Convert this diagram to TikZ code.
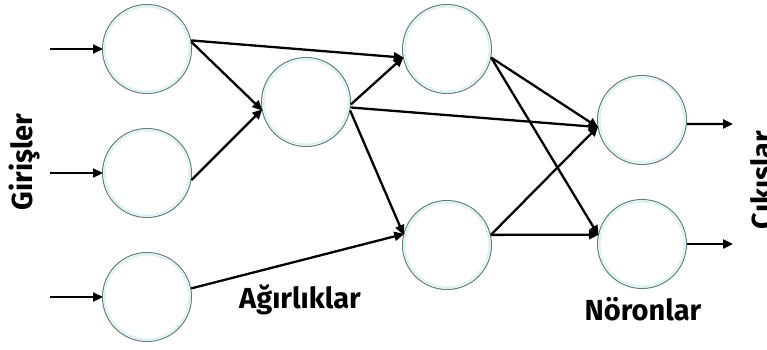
\documentclass[tikz,border=0pt]{standalone}
\usepackage{fontspec}
\setmainfont{Fira Sans}
\usetikzlibrary{arrows.meta}
\definecolor{circ}{RGB}{95,125,125}
\definecolor{glow}{RGB}{215,240,242}
\tikzset{
  neuron/.style={circle, draw=circ, line width=1pt, fill=white, minimum size=89pt, inner sep=0pt},
  conn/.style={line width=2.3pt, draw=black, -{Triangle[length=10pt,width=9pt]}, shorten >=-1pt},
  lab/.style={font=\fontsize{29}{32}\selectfont\bfseries, inner sep=0pt},
}
\begin{document}
\begin{tikzpicture}[x=1pt,y=-1pt]
\useasboundingbox (0,0) rectangle (767,350);
\fill[white] (0,0) rectangle (767,350);
% neurons
\node[neuron] (i1) at (147,49) {};
\node[neuron] (i2) at (147,173) {};
\node[neuron] (i3) at (147,297) {};
\node[neuron] (h1) at (306,102) {};
\node[neuron] (m1) at (447,49) {};
\node[neuron] (m2) at (447,245) {};
\node[neuron] (o1) at (642,120) {};
\node[neuron] (o2) at (642,244) {};
% inner glow
\foreach \n in {i1,i2,i3,h1,m1,m2,o1,o2}{
  \draw[glow, line width=1.5pt] (\n.center) circle (42.3pt);
}
% free ends
\coordinate (s1) at (50,49);
\coordinate (s2) at (50,173);
\coordinate (s3) at (50,297);
\coordinate (e1) at (732,124);
\coordinate (e2) at (732,244);
% inputs
\draw[conn] (s1) -- (i1.west);
\draw[conn] (s2) -- (i2.west);
\draw[conn] (s3) -- (i3.west);
% connections
\draw[conn] (i1.11) -- (m1.191);
\draw[conn] (i1.9) -- (h1.190);
\draw[conn] (i2.-9) -- (h1.190);
\draw[conn] (i3.11) -- (m2.166);
\draw[conn] (h1.-3) -- (m1.191);
\draw[conn] (h1.-7) -- (o1.189);
\draw[conn] (h1.-11) -- (m2.166);
\draw[conn] (m1.-11) -- (o1.189);
\draw[conn] (m1.-11) -- (o2.168);
\draw[conn] (m2.13) -- (o1.189);
\draw[conn] (m2.13) -- (o2.168);
% outputs
\draw[conn] (o1.-5) -- (e1);
\draw[conn] (o2.0) -- (e2);
% labels
\node[lab, rotate=90, anchor=base] (gir) at (32,162) {Girişler};
\node[lab, rotate=90, anchor=base] (cik) at (772,180) {Cıkıslar};
\node[lab, anchor=base] (agr) at (300,308) {Ağırlıklar};
\node[lab, anchor=base] (nor) at (643,320) {Nöronlar};
\end{tikzpicture}
\end{document}
